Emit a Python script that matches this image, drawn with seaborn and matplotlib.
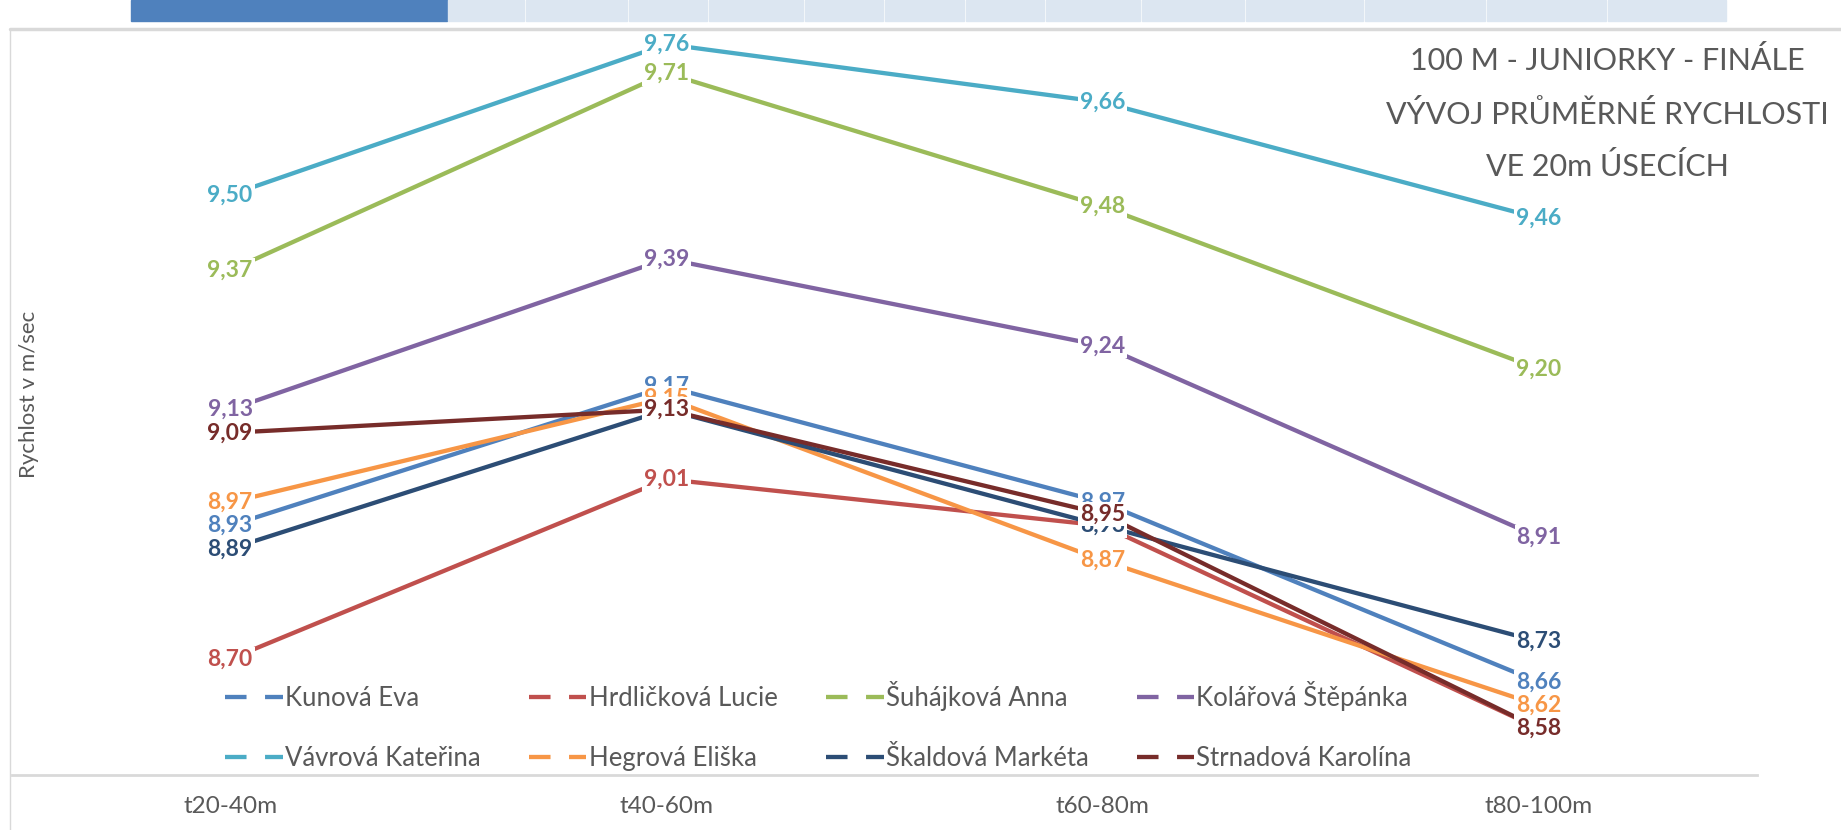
import pandas as pd
import seaborn as sns
import matplotlib.pyplot as plt
from matplotlib.lines import Line2D
from matplotlib.patches import Rectangle

# data
useky = ['t20-40m', 't40-60m', 't60-80m', 't80-100m']
zavodnice = ['Kunová Eva', 'Hrdličková Lucie', 'Šuhájková Anna', 'Kolářová Štěpánka',
             'Vávrová Kateřina', 'Hegrová Eliška', 'Škaldová Markéta', 'Strnadová Karolína']
kunova = [8.93, 9.17, 8.97, 8.66]
hrdlickova = [8.70, 9.01, 8.93, 8.58]
suhajkova = [9.37, 9.71, 9.48, 9.20]
kolarova = [9.13, 9.39, 9.24, 8.91]
vavrova = [9.50, 9.76, 9.66, 9.46]
hegrova = [8.97, 9.15, 8.87, 8.62]
skaldova = [8.89, 9.13, 8.93, 8.73]
strnadova = [9.09, 9.13, 8.95, 8.58]
barvy = ['#4F81BD', '#C0504D', '#9BBB59', '#8064A2',
         '#4BACC6', '#F79646', '#2C4D75', '#772C2A']

hodnoty = [kunova, hrdlickova, suhajkova, kolarova, vavrova, hegrova, skaldova, strnadova]
df = pd.DataFrame([(z, u, v) for z, vals in zip(zavodnice, hodnoty) for u, v in zip(useky, vals)],
                  columns=['jmeno', 'usek', 'rychlost'])

sns.set_style('white')
plt.rcParams['font.family'] = ['Lato', 'DejaVu Sans']

W, H = 1841, 830
fig = plt.figure(figsize=(W / 100, H / 100), dpi=100)
ax = fig.add_axes([12 / W, 1 - 775 / H, 1745 / W, (775 - 21) / H])

sns.lineplot(data=df, x='usek', y='rychlost', hue='jmeno', hue_order=zavodnice,
             palette=barvy, lw=3.1, legend=False, sort=False, ax=ax)
for ln in ax.lines:
    ln.set_solid_capstyle('butt')

# popisky hodnot
for k, (vals, c) in enumerate(zip(hodnoty, barvy)):
    for i, v in enumerate(vals):
        ax.text(i, v, f'{v:.2f}'.replace('.', ','), ha='center', va='center',
                fontsize=16.5, fontweight='bold', color=c, zorder=10 + k,
                bbox=dict(boxstyle='square,pad=0.08', fc='white', ec='none'))

ax.set_xlim(-0.5, 3.5)
ax.set_ylim(8.5, 9.8)
ax.set_yticks([])
ax.set_xlabel('')
ax.set_ylabel('')
ax.tick_params(axis='x', length=0, pad=15, labelsize=17.5, labelcolor='#595959')
for s in ['top', 'left', 'right']:
    ax.spines[s].set_visible(False)
ax.spines['bottom'].set_color('#D9D9D9')
ax.spines['bottom'].set_linewidth(2)

# legenda
poradi = [0, 4, 1, 5, 2, 6, 3, 7]
handles = [Line2D([0], [0], color=barvy[i], lw=3.1, dashes=(5, 4.3)) for i in poradi]
labels = [zavodnice[i] for i in poradi]
ax.legend(handles, labels, ncol=4, loc='upper left', bbox_to_anchor=(212 / W, 1 - 668 / H),
          bbox_transform=fig.transFigure, frameon=False, fontsize=18.5, labelcolor='#595959',
          handlelength=2.25, handletextpad=0.08, columnspacing=1.88, labelspacing=1.36, borderpad=0)

# nadpis
nadpis = ['100 M - JUNIORKY - FINÁLE', 'VÝVOJ PRŮMĚRNÉ RYCHLOSTI', 'VE 20m ÚSECÍCH']
for t, yy in zip(nadpis, [61, 114, 166]):
    fig.text(1607 / W, 1 - yy / H, t, ha='center', va='center', fontsize=22,
             color='#595959')

fig.text(29 / W, 1 - 394 / H, 'Rychlost v m/sec', rotation=90, ha='center', va='center',
         fontsize=16, color='#595959')

# okraj grafu a kousek tabulky nahore
fig.add_artist(Line2D([10 / W, 1], [1 - 29 / H] * 2, color='#D9D9D9', lw=2.5))
fig.add_artist(Line2D([10 / W] * 2, [0, 1 - 29 / H], color='#D9D9D9', lw=1))
fig.add_artist(Rectangle((131 / W, 1 - 21 / H), (447 - 131) / W, 21 / H, color='#4F81BD',
                         transform=fig.transFigure))
bunky = [447, 525, 628, 708, 804, 884, 965, 1045, 1141, 1245, 1364, 1486, 1607, 1727]
for a, b in zip(bunky[:-1], bunky[1:]):
    fig.add_artist(Rectangle(((a + 1) / W, 1 - 21 / H), (b - a - 2) / W, 21 / H,
                             color='#DCE6F1', transform=fig.transFigure))

fig.savefig('out.png', dpi=100, facecolor='white')
